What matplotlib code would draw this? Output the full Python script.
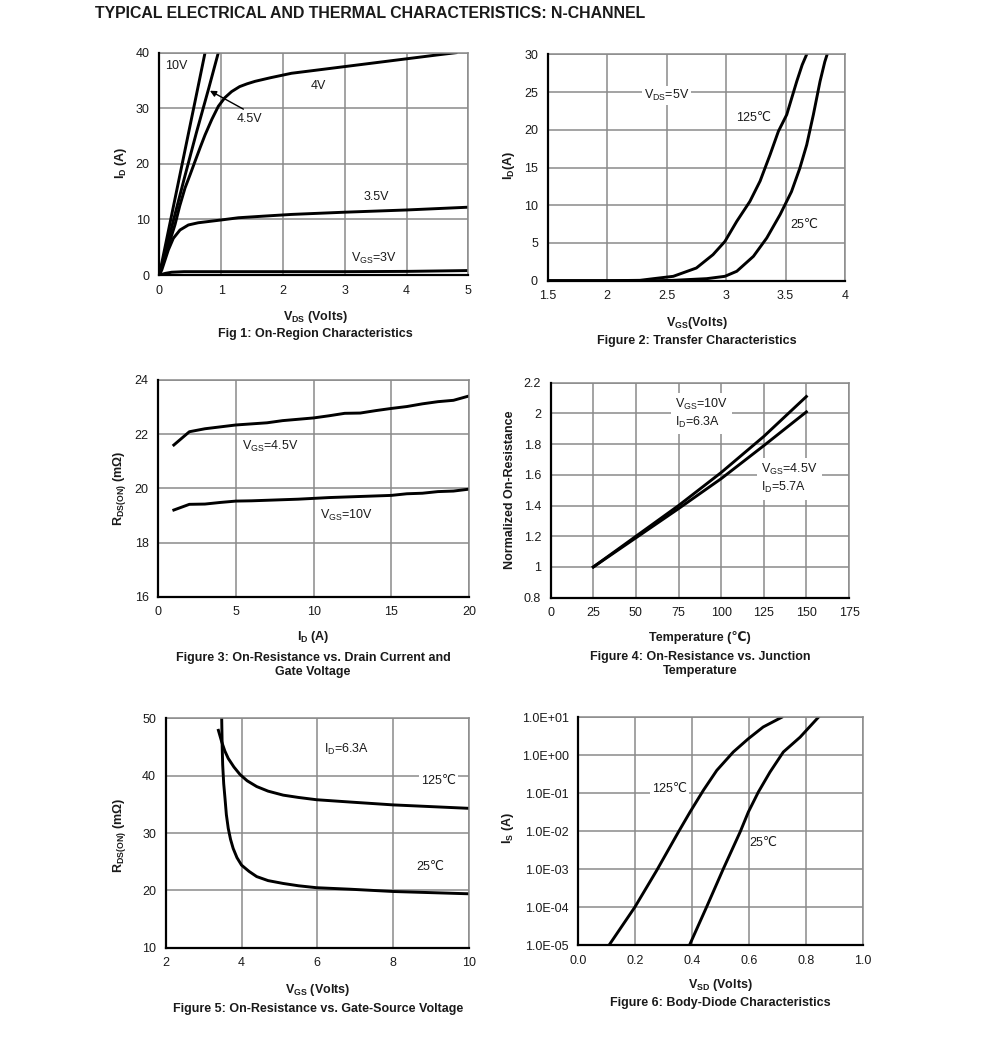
import numpy as np
import matplotlib
matplotlib.use("Agg")
import matplotlib.pyplot as plt
import matplotlib.ticker as mtick

plt.rcParams['font.family'] = ['Liberation Sans', 'DejaVu Sans', 'Noto Sans CJK SC']
plt.rcParams['mathtext.fontset'] = 'custom'
plt.rcParams['mathtext.rm'] = 'Liberation Sans'
plt.rcParams['mathtext.bf'] = 'Liberation Sans:bold'
plt.rcParams['mathtext.it'] = 'Liberation Sans:italic'

W, H = 991, 1042

# Fig 1: on-region
f1_x10 = [0, 0.2, 0.4, 0.6, 0.74]
f1_y10 = [0, 10.8, 21.6, 32.4, 40]
f1_x45 = [0, 0.2, 0.4, 0.6, 0.8, 0.955]
f1_y45 = [0, 8.6, 17.2, 25.6, 33.6, 40]
f1_x4 = [0, 0.12, 0.254, 0.33, 0.416, 0.5, 0.578, 0.66, 0.74, 0.85, 0.955, 1.06, 1.17, 1.3, 1.42, 1.55, 1.8, 2.14,
         2.5, 3, 3.5, 4, 4.5, 4.8]
f1_y4 = [0, 4.3, 9.05, 12.4, 15.65, 18.1, 20.45, 22.9, 25.2, 28.0, 30.35, 31.9, 33.0, 33.9, 34.4, 34.85, 35.5, 36.3,
         36.8, 37.5, 38.2, 38.9, 39.6, 40]
f1_x35 = [0, 0.04, 0.146, 0.227, 0.335, 0.47, 0.63, 1.0, 1.28, 1.7, 2.14, 3, 4, 5]
f1_y35 = [0, 0.9, 4.5, 6.6, 8.1, 9.0, 9.4, 9.9, 10.3, 10.6, 10.9, 11.3, 11.7, 12.2]
f1_x3 = [0, 0.1, 0.2, 0.4, 1, 2, 3, 4, 5]
f1_y3 = [0, 0.3, 0.5, 0.6, 0.6, 0.6, 0.6, 0.65, 0.8]

# Fig 2: transfer
f2_x125 = [1.5, 2.0, 2.276, 2.39, 2.556, 2.75, 2.89, 2.99, 3.09, 3.20, 3.286, 3.37, 3.44, 3.51, 3.594, 3.64, 3.678]
f2_y125 = [0, 0, 0.05, 0.27, 0.58, 1.68, 3.45, 5.2, 7.87, 10.5, 13.2, 16.7, 19.8, 22.0, 26.4, 28.6, 30]
f2_x25 = [1.5, 2.4, 2.556, 2.837, 2.99, 3.09, 3.23, 3.342, 3.454, 3.55, 3.62, 3.678, 3.734, 3.79, 3.83, 3.85]
f2_y25 = [0, 0, 0.05, 0.27, 0.58, 1.25, 3.23, 5.66, 8.75, 11.8, 14.9, 18.0, 22.0, 26.4, 29.0, 30]

# Fig 3: Rds vs Id
f3_id = [1, 2, 3, 4, 5, 6, 7, 8, 9, 10, 11, 12, 13, 14, 15, 16, 17, 18, 19, 20]
f3_r45 = [21.6, 22.09, 22.2, 22.27, 22.34, 22.38, 22.42, 22.5, 22.55, 22.6, 22.68, 22.77, 22.78, 22.87, 22.95, 23.02,
          23.12, 23.2, 23.25, 23.41]
f3_r10 = [19.2, 19.41, 19.42, 19.48, 19.53, 19.54, 19.56, 19.58, 19.6, 19.63, 19.66, 19.68, 19.7, 19.72, 19.74, 19.8,
          19.82, 19.88, 19.9, 19.97]

# Fig 4: normalized Rds vs temperature
f4_t = [25, 50, 75, 100, 125, 150]
f4_n10 = [1.0, 1.2, 1.40, 1.615, 1.85, 2.11]
f4_n45 = [1.0, 1.19, 1.38, 1.575, 1.79, 2.01]

# Fig 5: Rds vs Vgs
f5_v125 = [3.39, 3.477, 3.56, 3.65, 3.8, 3.96, 4.15, 4.40, 4.7, 5.10, 5.5, 5.98, 6.86, 8, 9, 10]
f5_r125 = [47.9, 45.9, 44.3, 43.0, 41.5, 40.2, 39.1, 38.1, 37.3, 36.6, 36.2, 35.8, 35.4, 34.9, 34.6, 34.3]
f5_v25 = [3.477, 3.49, 3.503, 3.53, 3.564, 3.6, 3.65, 3.71, 3.78, 3.88, 4.0, 4.2, 4.40, 4.7, 5.10, 5.5, 5.98, 6.86,
          8, 9, 10]
f5_r25 = [50, 45, 41.9, 38.6, 36.05, 33.2, 30.8, 28.9, 27.3, 25.7, 24.4, 23.3, 22.4, 21.7, 21.2, 20.8, 20.46, 20.2,
          19.8, 19.6, 19.4]

# Fig 6: body diode
f6_v125 = [0.1115, 0.199, 0.276, 0.352, 0.393, 0.44, 0.487, 0.545, 0.598, 0.650, 0.715]
f6_i125 = [1.08e-5, 1e-4, 9.3e-4, 9.5e-3, 3.2e-2, 0.12, 0.4, 1.22, 2.73, 5.55, 10]
f6_v25 = [0.393, 0.451, 0.51, 0.569, 0.598, 0.633, 0.674, 0.721, 0.78, 0.844]
f6_i25 = [1.07e-5, 1e-4, 1.02e-3, 9.5e-3, 3.2e-2, 0.107, 0.36, 1.22, 3.0, 10]

fig = plt.figure(figsize=(W / 100, H / 100), dpi=100)

GRID = '#8a8a8a'
TXT = '#1a1a1a'
LW = 2.1


def fx(px):
    return px / W


def fy(py):
    return 1 - py / H


def make_ax(l, r, t, b):
    ax = fig.add_axes([fx(l), fy(b), (r - l) / W, (b - t) / H])
    ax.grid(True, color=GRID, lw=1.1)
    ax.set_axisbelow(True)
    for s in ['top', 'right']:
        ax.spines[s].set_color(GRID)
        ax.spines[s].set_linewidth(1.1)
    for s in ['left', 'bottom']:
        ax.spines[s].set_color('black')
        ax.spines[s].set_linewidth(1.6)
        ax.spines[s].set_zorder(3)
    ax.tick_params(length=0, labelsize=9, colors=TXT, pad=7)
    return ax


def label(px, py, s, size=9, rot=0, weight='bold', **kw):
    fig.text(fx(px), fy(py), s, fontsize=size, rotation=rot, weight=weight,
             ha='center', va='center', color=TXT, **kw)


box = dict(facecolor='white', edgecolor='none', pad=1.5)

fig.text(fx(95), fy(14), 'TYPICAL ELECTRICAL AND THERMAL CHARACTERISTICS: N-CHANNEL',
         fontsize=11.4, weight='bold', ha='left', va='center', color=TXT)

# ---- Fig 1
ax = make_ax(159.3, 468.3, 52.7, 275)
for xs, ys in [(f1_x10, f1_y10), (f1_x45, f1_y45), (f1_x4, f1_y4), (f1_x35, f1_y35), (f1_x3, f1_y3)]:
    ax.plot(xs, ys, color='black', lw=LW, solid_joinstyle='round')
ax.set_xlim(0, 5)
ax.set_ylim(0, 40)
ax.set_xticks(range(6))
ax.set_yticks(range(0, 41, 10))
ax.text(0.1, 37.6, '10V', fontsize=9, color=TXT, va='center')
ax.text(2.45, 34.0, '4V', fontsize=9, color=TXT, va='center')
ax.text(1.25, 28.0, '4.5V', fontsize=9, color=TXT, va='center')
ax.text(3.3, 14.1, '3.5V', fontsize=9, color=TXT, va='center')
ax.text(3.1, 3.0, r'V$_{\mathrm{GS}}$=3V', fontsize=9, color=TXT, va='center')
ax.annotate('', xy=(0.78, 33.4), xytext=(1.4, 29.6),
            arrowprops=dict(arrowstyle='-|>', color='black', lw=1.0, mutation_scale=9))
label(315, 317, r'V$_{\mathbf{DS}}$ (Volts)')
label(315, 334, 'Fig 1: On-Region Characteristics')
label(121, 163, r'I$_{\mathbf{D}}$ (A)', rot=90)

# ---- Fig 2
ax = make_ax(547.7, 845, 54.3, 280.7)
ax.plot(f2_x125, f2_y125, color='black', lw=LW, solid_joinstyle='round')
ax.plot(f2_x25, f2_y25, color='black', lw=LW, solid_joinstyle='round')
ax.set_xlim(1.5, 4)
ax.set_ylim(0, 30)
ax.set_xticks(np.arange(1.5, 4.01, 0.5))
ax.xaxis.set_major_formatter(mtick.FormatStrFormatter('%g'))
ax.set_yticks(range(0, 31, 5))
ax.text(2.5, 24.5, r'V$_{\mathrm{DS}}$=5V', fontsize=9, color=TXT, ha='center', va='center', bbox=box)
ax.text(3.23, 21.6, '125℃', fontsize=9, color=TXT, ha='center', va='center')
ax.text(3.66, 7.4, '25℃', fontsize=9, color=TXT, ha='center', va='center')
label(697, 323, r'V$_{\mathbf{GS}}$(Volts)')
label(697, 341, 'Figure 2: Transfer Characteristics')
label(509, 165, r'I$_{\mathbf{D}}$(A)', rot=90)

# ---- Fig 3
ax = make_ax(158.3, 469, 380, 596.7)
ax.plot(f3_id, f3_r45, color='black', lw=LW, solid_joinstyle='round')
ax.plot(f3_id, f3_r10, color='black', lw=LW, solid_joinstyle='round')
ax.set_xlim(0, 20)
ax.set_ylim(16, 24)
ax.set_xticks(range(0, 21, 5))
ax.set_yticks(range(16, 25, 2))
ax.text(7.2, 21.55, r'V$_{\mathrm{GS}}$=4.5V', fontsize=9, color=TXT, ha='center', va='center')
ax.text(12.1, 19.0, r'V$_{\mathrm{GS}}$=10V', fontsize=9, color=TXT, ha='center', va='center')
label(313, 637, r'I$_{\mathbf{D}}$ (A)')
label(313, 665, 'Figure 3: On-Resistance vs. Drain Current and\nGate Voltage', linespacing=1.25)
label(120, 488, r'R$_{\mathbf{DS(ON)}}$ (m$\mathbf{\Omega}$)', rot=90)

# ---- Fig 4
ax = make_ax(550.7, 849, 382.7, 597.7)
ax.plot(f4_t, f4_n10, color='black', lw=LW, solid_joinstyle='round')
ax.plot(f4_t, f4_n45, color='black', lw=LW, solid_joinstyle='round')
ax.set_xlim(0, 175)
ax.set_ylim(0.8, 2.2)
ax.set_xticks(range(0, 176, 25))
ax.set_yticks(np.arange(0.8, 2.21, 0.2))
ax.yaxis.set_major_formatter(mtick.FuncFormatter(lambda v, p: '%g' % round(v, 1)))
ax.text(73, 2.0, 'V$_{\\mathrm{GS}}$=10V\nI$_{\\mathrm{D}}$=6.3A', fontsize=9, color=TXT,
        ha='left', va='center', bbox=dict(facecolor='white', edgecolor='none', pad=3), linespacing=1.3)
ax.text(123.5, 1.575, 'V$_{\\mathrm{GS}}$=4.5V\nI$_{\\mathrm{D}}$=5.7A', fontsize=9, color=TXT,
        ha='left', va='center', bbox=dict(facecolor='white', edgecolor='none', pad=3), linespacing=1.3)
label(700, 637, 'Temperature (℃)')
label(700, 664, 'Figure 4: On-Resistance vs. Junction\nTemperature', linespacing=1.25)
label(510, 490, 'Normalized On-Resistance', rot=90)

# ---- Fig 5
ax = make_ax(165.7, 469, 718.3, 947.7)
ax.plot(f5_v125, f5_r125, color='black', lw=LW, solid_joinstyle='round')
ax.plot(f5_v25, f5_r25, color='black', lw=LW, solid_joinstyle='round')
ax.set_xlim(2, 10)
ax.set_ylim(10, 50)
ax.set_xticks(range(2, 11, 2))
ax.set_yticks(range(10, 51, 10))
ax.text(6.77, 44.5, r'I$_{\mathrm{D}}$=6.3A', fontsize=9, color=TXT, ha='center', va='center')
ax.text(9.19, 39.0, '125℃', fontsize=9, color=TXT, ha='center', va='center', bbox=box)
ax.text(8.97, 24.1, '25℃', fontsize=9, color=TXT, ha='center', va='center')
label(318, 990, r'V$_{\mathbf{GS}}$ (Volts)')
label(318, 1009, 'Figure 5: On-Resistance vs. Gate-Source Voltage')
label(120, 835, r'R$_{\mathbf{DS(ON)}}$ (m$\mathbf{\Omega}$)', rot=90)

# ---- Fig 6
ax = make_ax(578.3, 862.7, 717.3, 945)
ax.plot(f6_v125, f6_i125, color='black', lw=LW, solid_joinstyle='round')
ax.plot(f6_v25, f6_i25, color='black', lw=LW, solid_joinstyle='round')
ax.set_yscale('log')
ax.set_xlim(0, 1)
ax.set_ylim(1e-5, 1e1)
ax.set_xticks(np.arange(0, 1.01, 0.2))
ax.xaxis.set_major_formatter(mtick.FormatStrFormatter('%.1f'))
ax.yaxis.set_major_locator(mtick.FixedLocator([10.0 ** k for k in range(-5, 2)]))
ax.yaxis.set_minor_locator(mtick.NullLocator())
ax.yaxis.set_major_formatter(mtick.FuncFormatter(lambda v, p: '%.1E' % v))
ax.text(0.322, 0.126, '125℃', fontsize=9, color=TXT, ha='center', va='center', bbox=box)
ax.text(0.65, 4.8e-3, '25℃', fontsize=9, color=TXT, ha='center', va='center')
label(720, 985, r'V$_{\mathbf{SD}}$ (Volts)')
label(720, 1003, 'Figure 6: Body-Diode Characteristics')
label(508, 828, r'I$_{\mathbf{S}}$ (A)', rot=90)

fig.savefig('out.png', dpi=100)
